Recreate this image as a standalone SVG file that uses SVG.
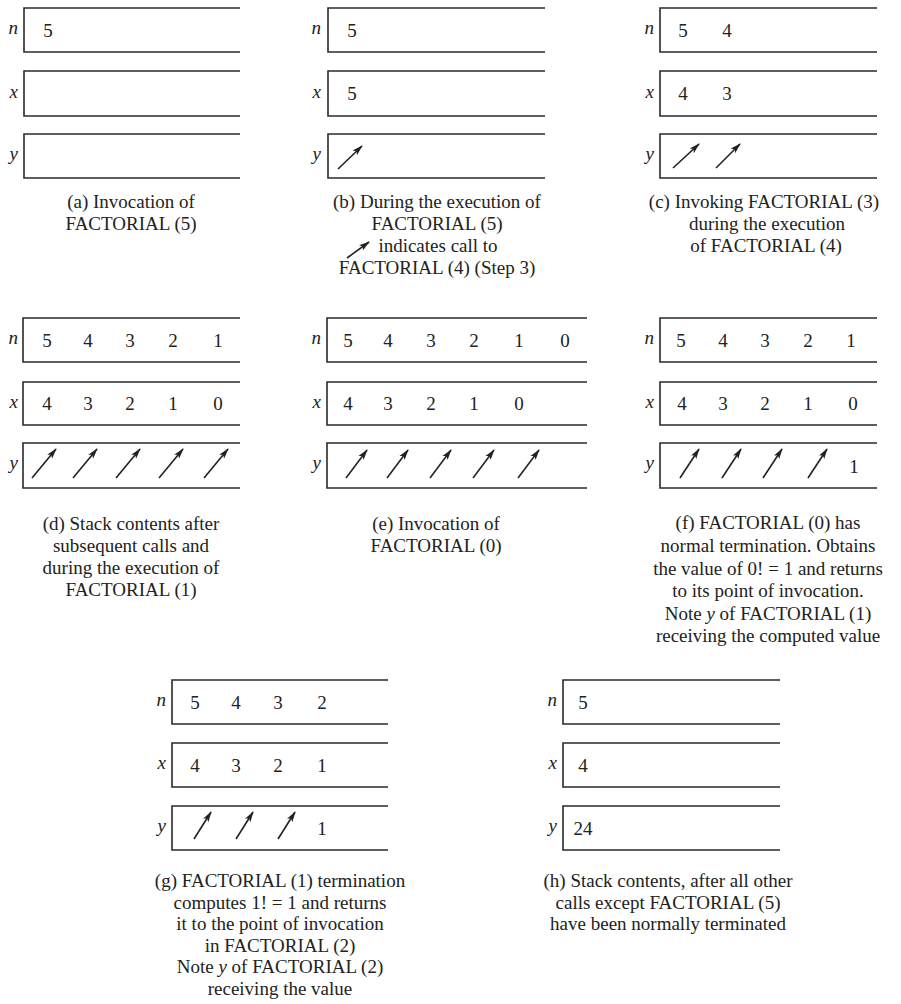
<svg xmlns="http://www.w3.org/2000/svg" width="901" height="1004" viewBox="0 0 901 1004">
<style>
.bx{fill:none;stroke:#2a2a2a;stroke-width:1.6}
.v{font-family:"Liberation Serif",serif;font-size:19px;fill:#222;text-anchor:middle}
.lb{font-family:"Liberation Serif",serif;font-size:19px;font-style:italic;fill:#222;text-anchor:end}
.cap{font-family:"Liberation Serif",serif;font-size:19px;fill:#222;text-anchor:middle}
.ar{stroke:#222;stroke-width:1.6;fill:none;marker-end:url(#ah)}
</style>
<defs>
<marker id="ah" markerWidth="11" markerHeight="8" refX="10" refY="3.5" orient="auto" markerUnits="userSpaceOnUse">
<path d="M0,0.3 L11,3.5 L0,6.7 L2.5,3.5 Z" fill="#222"/>
</marker>
</defs>
<rect width="901" height="1004" fill="#fff"/>

<!-- (a) -->
<g id="panel-a">
<path class="bx" d="M240,8 H24 V52 H240"/>
<path class="bx" d="M240,71 H24 V116 H240"/>
<path class="bx" d="M240,134 H24 V178 H240"/>
<text class="lb" x="18" y="34">n</text>
<text class="lb" x="18" y="98">x</text>
<text class="lb" x="18" y="160">y</text>
<text class="v" x="48" y="37">5</text>
<text class="cap" x="131" y="208">(a) Invocation of</text>
<text class="cap" x="131" y="230">FACTORIAL (5)</text>
</g>

<!-- (b) -->
<g id="panel-b">
<path class="bx" d="M545,8 H328 V52 H545"/>
<path class="bx" d="M545,71 H328 V116 H545"/>
<path class="bx" d="M545,134 H328 V178 H545"/>
<text class="lb" x="321" y="34">n</text>
<text class="lb" x="321" y="98">x</text>
<text class="lb" x="321" y="160">y</text>
<text class="v" x="352" y="37">5</text>
<text class="v" x="352" y="100">5</text>
<text class="cap" x="437" y="208">(b) During the execution of</text>
<text class="cap" x="437" y="230">FACTORIAL (5)</text>
<text class="cap" x="438" y="252">indicates call to</text>
<text class="cap" x="437" y="274">FACTORIAL (4) (Step 3)</text>
</g>

<!-- (c) -->
<g id="panel-c">
<path class="bx" d="M877,8 H660 V52 H877"/>
<path class="bx" d="M877,71 H660 V116 H877"/>
<path class="bx" d="M877,134 H660 V178 H877"/>
<text class="lb" x="654" y="34">n</text>
<text class="lb" x="654" y="98">x</text>
<text class="lb" x="654" y="160">y</text>
<text class="v" x="683" y="37">5</text>
<text class="v" x="727" y="37">4</text>
<text class="v" x="683" y="100">4</text>
<text class="v" x="727" y="100">3</text>
<text class="cap" x="764" y="208">(c) Invoking FACTORIAL (3)</text>
<text class="cap" x="767" y="230">during the execution</text>
<text class="cap" x="766" y="252">of FACTORIAL (4)</text>
</g>

<!-- (d) -->
<g id="panel-d">
<path class="bx" d="M240,318 H23 V362 H240"/>
<path class="bx" d="M240,382 H23 V425 H240"/>
<path class="bx" d="M240,443 H23 V488 H240"/>
<text class="lb" x="18" y="344">n</text>
<text class="lb" x="18" y="408">x</text>
<text class="lb" x="18" y="469">y</text>
<text class="v" x="47" y="347">5</text>
<text class="v" x="88" y="347">4</text>
<text class="v" x="130" y="347">3</text>
<text class="v" x="173" y="347">2</text>
<text class="v" x="218" y="347">1</text>
<text class="v" x="47" y="410">4</text>
<text class="v" x="88" y="410">3</text>
<text class="v" x="130" y="410">2</text>
<text class="v" x="173" y="410">1</text>
<text class="v" x="218" y="410">0</text>
<text class="cap" x="131" y="530">(d) Stack contents after</text>
<text class="cap" x="131" y="552">subsequent calls and</text>
<text class="cap" x="131" y="574">during the execution of</text>
<text class="cap" x="131" y="596">FACTORIAL (1)</text>
</g>

<!-- (e) -->
<g id="panel-e">
<path class="bx" d="M587,318 H327 V362 H587"/>
<path class="bx" d="M587,382 H327 V425 H587"/>
<path class="bx" d="M587,443 H327 V488 H587"/>
<text class="lb" x="321" y="344">n</text>
<text class="lb" x="321" y="408">x</text>
<text class="lb" x="321" y="469">y</text>
<text class="v" x="348" y="347">5</text>
<text class="v" x="388" y="347">4</text>
<text class="v" x="431" y="347">3</text>
<text class="v" x="474" y="347">2</text>
<text class="v" x="519" y="347">1</text>
<text class="v" x="565" y="347">0</text>
<text class="v" x="348" y="410">4</text>
<text class="v" x="388" y="410">3</text>
<text class="v" x="431" y="410">2</text>
<text class="v" x="474" y="410">1</text>
<text class="v" x="519" y="410">0</text>
<text class="cap" x="436" y="530">(e) Invocation of</text>
<text class="cap" x="436" y="552">FACTORIAL (0)</text>
</g>

<!-- (f) -->
<g id="panel-f">
<path class="bx" d="M877,318 H660 V362 H877"/>
<path class="bx" d="M877,382 H660 V425 H877"/>
<path class="bx" d="M877,443 H660 V488 H877"/>
<text class="lb" x="654" y="344">n</text>
<text class="lb" x="654" y="408">x</text>
<text class="lb" x="654" y="469">y</text>
<text class="v" x="681" y="347">5</text>
<text class="v" x="723" y="347">4</text>
<text class="v" x="765" y="347">3</text>
<text class="v" x="808" y="347">2</text>
<text class="v" x="851" y="347">1</text>
<text class="v" x="682" y="410">4</text>
<text class="v" x="723" y="410">3</text>
<text class="v" x="765" y="410">2</text>
<text class="v" x="808" y="410">1</text>
<text class="v" x="853" y="410">0</text>
<text class="v" x="854" y="473">1</text>
<text class="cap" x="768" y="529">(f) FACTORIAL (0) has</text>
<text class="cap" x="768" y="552">normal termination. Obtains</text>
<text class="cap" x="768" y="575">the value of 0! = 1 and returns</text>
<text class="cap" x="768" y="597">to its point of invocation.</text>
<text class="cap" x="768" y="620">Note <tspan font-style="italic">y</tspan> of FACTORIAL (1)</text>
<text class="cap" x="768" y="642">receiving the computed value</text>
</g>

<!-- (g) -->
<g id="panel-g">
<path class="bx" d="M388,680 H172 V724 H388"/>
<path class="bx" d="M388,743 H172 V787 H388"/>
<path class="bx" d="M388,806 H172 V850 H388"/>
<text class="lb" x="166" y="706">n</text>
<text class="lb" x="166" y="769">x</text>
<text class="lb" x="166" y="832">y</text>
<text class="v" x="195" y="709">5</text>
<text class="v" x="236" y="709">4</text>
<text class="v" x="278" y="709">3</text>
<text class="v" x="322" y="709">2</text>
<text class="v" x="195" y="772">4</text>
<text class="v" x="236" y="772">3</text>
<text class="v" x="278" y="772">2</text>
<text class="v" x="322" y="772">1</text>
<text class="v" x="322" y="835">1</text>
<text class="cap" x="280" y="887">(g) FACTORIAL (1) termination</text>
<text class="cap" x="280" y="909">computes 1! = 1 and returns</text>
<text class="cap" x="280" y="930">it to the point of invocation</text>
<text class="cap" x="280" y="952">in FACTORIAL (2)</text>
<text class="cap" x="280" y="973">Note <tspan font-style="italic">y</tspan> of FACTORIAL (2)</text>
<text class="cap" x="280" y="995">receiving the value</text>
</g>

<!-- (h) -->
<g id="panel-h">
<path class="bx" d="M780,680 H563 V724 H780"/>
<path class="bx" d="M780,743 H563 V787 H780"/>
<path class="bx" d="M780,806 H563 V850 H780"/>
<text class="lb" x="557" y="706">n</text>
<text class="lb" x="557" y="769">x</text>
<text class="lb" x="557" y="832">y</text>
<text class="v" x="583" y="709">5</text>
<text class="v" x="583" y="772">4</text>
<text class="v" x="583" y="835">24</text>
<text class="cap" x="668" y="887">(h) Stack contents, after all other</text>
<text class="cap" x="668" y="909">calls except FACTORIAL (5)</text>
<text class="cap" x="668" y="930">have been normally terminated</text>
</g>

<!-- pointer arrows -->
<g id="connectors">
<line class="ar" x1="338" y1="169" x2="362" y2="146"/>
<line class="ar" x1="347" y1="258" x2="369" y2="242"/>
<line class="ar" x1="673" y1="168" x2="699" y2="144"/>
<line class="ar" x1="716" y1="168" x2="740" y2="144"/>
<line class="ar" x1="32" y1="478" x2="56" y2="449"/>
<line class="ar" x1="73" y1="478" x2="97" y2="449"/>
<line class="ar" x1="116" y1="478" x2="140" y2="449"/>
<line class="ar" x1="159" y1="478" x2="183" y2="449"/>
<line class="ar" x1="204" y1="478" x2="228" y2="449"/>
<line class="ar" x1="346" y1="478" x2="367" y2="450"/>
<line class="ar" x1="387" y1="478" x2="408" y2="450"/>
<line class="ar" x1="430" y1="478" x2="451" y2="450"/>
<line class="ar" x1="473" y1="478" x2="494" y2="450"/>
<line class="ar" x1="518" y1="478" x2="539" y2="450"/>
<line class="ar" x1="680" y1="478" x2="699" y2="449"/>
<line class="ar" x1="722" y1="478" x2="741" y2="449"/>
<line class="ar" x1="763" y1="478" x2="782" y2="449"/>
<line class="ar" x1="808" y1="478" x2="827" y2="449"/>
<line class="ar" x1="194" y1="839" x2="211" y2="812"/>
<line class="ar" x1="236" y1="839" x2="253" y2="812"/>
<line class="ar" x1="278" y1="839" x2="295" y2="812"/>
</g>
</svg>
